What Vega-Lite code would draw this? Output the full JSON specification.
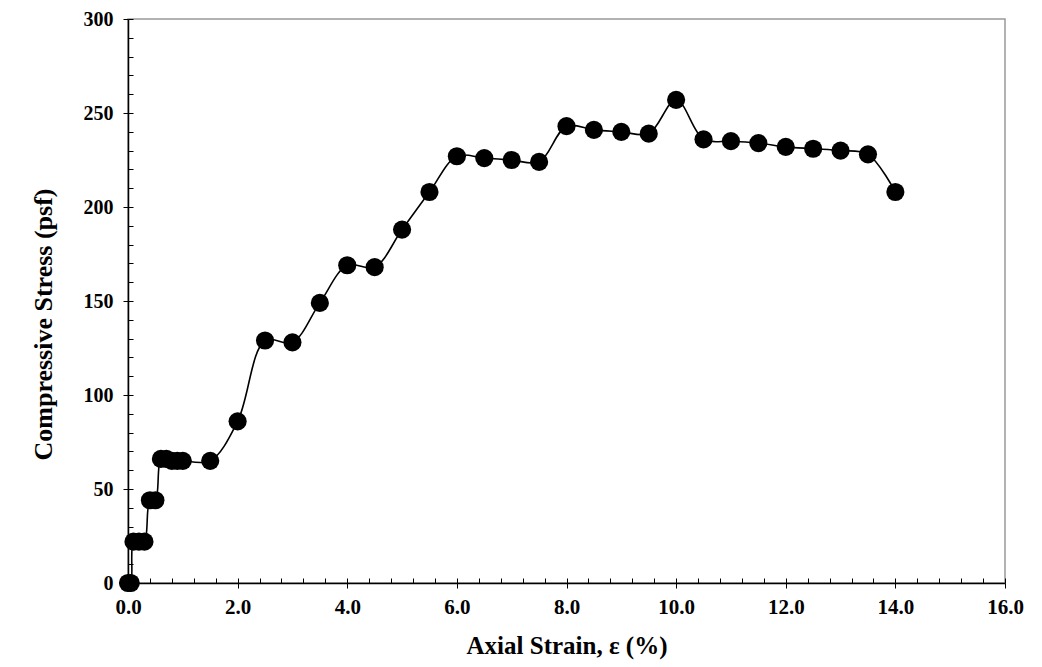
{
  "$schema": "https://vega.github.io/schema/vega-lite/v6.json",
  "autosize": "none",
  "width": 877,
  "height": 564,
  "padding": {"left": 128, "top": 19, "right": 37, "bottom": 84},
  "background": "white",
  "config": {
    "view": {"stroke": "#999999", "strokeWidth": 1.5},
    "font": "Liberation Serif"
  },
  "data": {
    "values": [
      {"strain": 0.0, "stress": 0},
      {"strain": 0.05, "stress": 0},
      {"strain": 0.1, "stress": 22},
      {"strain": 0.2, "stress": 22},
      {"strain": 0.3, "stress": 22},
      {"strain": 0.4, "stress": 44},
      {"strain": 0.5, "stress": 44},
      {"strain": 0.6, "stress": 66},
      {"strain": 0.7, "stress": 66},
      {"strain": 0.8, "stress": 65},
      {"strain": 0.9, "stress": 65},
      {"strain": 1.0, "stress": 65},
      {"strain": 1.5, "stress": 65},
      {"strain": 2.0, "stress": 86},
      {"strain": 2.5, "stress": 129},
      {"strain": 3.0, "stress": 128},
      {"strain": 3.5, "stress": 149},
      {"strain": 4.0, "stress": 169},
      {"strain": 4.5, "stress": 168},
      {"strain": 5.0, "stress": 188},
      {"strain": 5.5, "stress": 208},
      {"strain": 6.0, "stress": 227},
      {"strain": 6.5, "stress": 226},
      {"strain": 7.0, "stress": 225},
      {"strain": 7.5, "stress": 224},
      {"strain": 8.0, "stress": 243},
      {"strain": 8.5, "stress": 241},
      {"strain": 9.0, "stress": 240},
      {"strain": 9.5, "stress": 239},
      {"strain": 10.0, "stress": 257},
      {"strain": 10.5, "stress": 236},
      {"strain": 11.0, "stress": 235},
      {"strain": 11.5, "stress": 234},
      {"strain": 12.0, "stress": 232},
      {"strain": 12.5, "stress": 231},
      {"strain": 13.0, "stress": 230},
      {"strain": 13.5, "stress": 228},
      {"strain": 14.0, "stress": 208}
    ]
  },
  "resolve": {"axis": {"x": "independent", "y": "independent"}},
  "layer": [
    {
      "mark": {"type": "line", "color": "black", "strokeWidth": 1.6, "interpolate": "catmull-rom"},
      "encoding": {
        "x": {
          "field": "strain", "type": "quantitative",
          "scale": {"domain": [0, 16], "nice": false, "zero": false},
          "axis": {
            "orient": "bottom",
            "values": [0,0.4,0.8,1.2,1.6,2,2.4,2.8,3.2,3.6,4,4.4,4.8,5.2,5.6,6,6.4,6.8,7.2,7.6,8,8.4,8.8,9.2,9.6,10,10.4,10.8,11.2,11.6,12,12.4,12.8,13.2,13.6,14,14.4,14.8,15.2,15.6,16],
            "labels": false, "title": null, "domain": false, "grid": false,
            "tickSize": -5, "tickColor": "black", "tickWidth": 1
          }
        },
        "y": {
          "field": "stress", "type": "quantitative",
          "scale": {"domain": [0, 300], "nice": false},
          "axis": {
            "orient": "left",
            "values": [0,10,20,30,40,50,60,70,80,90,100,110,120,130,140,150,160,170,180,190,200,210,220,230,240,250,260,270,280,290,300],
            "labels": false, "title": null, "domain": false, "grid": false,
            "tickSize": -5, "tickColor": "black", "tickWidth": 1
          }
        }
      }
    },
    {
      "mark": {"type": "circle", "color": "black", "opacity": 1, "size": 330},
      "encoding": {
        "x": {
          "field": "strain", "type": "quantitative",
          "scale": {"domain": [0, 16], "nice": false, "zero": false},
          "axis": {
            "orient": "bottom",
            "values": [0,2,4,6,8,10,12,14,16],
            "format": ".1f",
            "grid": false,
            "labelFlush": false,
            "labelOverlap": false,
            "domainColor": "black", "domainWidth": 1.5,
            "tickColor": "black", "tickSize": 5, "tickWidth": 1,
            "labelFont": "Liberation Serif", "labelFontWeight": "bold", "labelFontSize": 21, "labelColor": "black",
            "labelPadding": 8,
            "title": "Axial Strain, ε (%)",
            "titleFont": "Liberation Serif", "titleFontWeight": "bold", "titleFontSize": 25, "titleColor": "black",
            "titlePadding": 16
          }
        },
        "y": {
          "field": "stress", "type": "quantitative",
          "scale": {"domain": [0, 300], "nice": false},
          "axis": {
            "orient": "left",
            "values": [0,50,100,150,200,250,300],
            "grid": false,
            "labelFlush": false,
            "labelOverlap": false,
            "domainColor": "black", "domainWidth": 1.5,
            "tickColor": "black", "tickSize": 5, "tickWidth": 1,
            "labelFont": "Liberation Serif", "labelFontWeight": "bold", "labelFontSize": 20, "labelColor": "black",
            "labelPadding": 10,
            "title": "Compressive Stress (psf)",
            "titleFont": "Liberation Serif", "titleFontWeight": "bold", "titleFontSize": 26, "titleColor": "black",
            "titlePadding": 27,
            "titleY": 305
          }
        }
      }
    }
  ]
}
